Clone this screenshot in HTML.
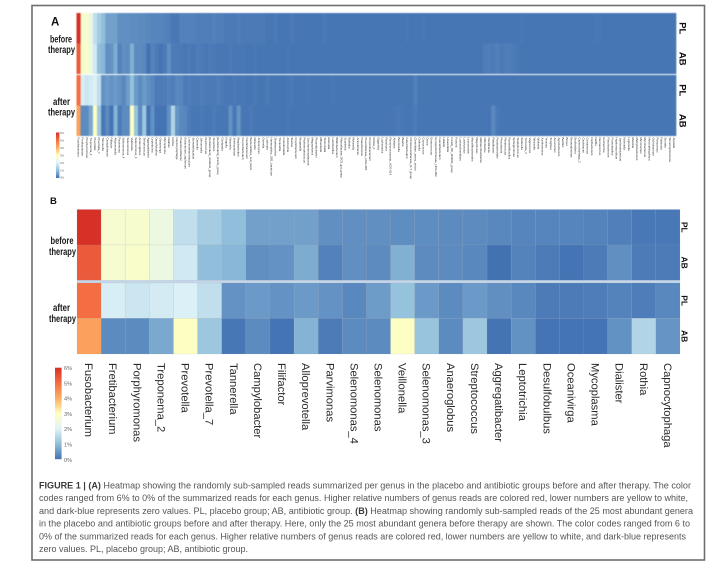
<!DOCTYPE html>
<html lang="en">
<head>
<meta charset="utf-8">
<title>Figure 1 heatmaps</title>
<style>
html,body{margin:0;padding:0;background:#fff;width:724px;height:570px;overflow:hidden}
svg{display:block;font-family:"Liberation Sans",sans-serif;filter:blur(.3px)}
.side{font-weight:bold;font-size:10px;fill:#1a1a1a}
.cap{font-size:9px;fill:#555}
.cap .b{font-weight:bold;fill:#3a3a3a}
</style>
</head>
<body>
<svg id="fig" width="724" height="570" viewBox="0 0 724 570">
  <defs>
    <linearGradient id="lg" x1="0" y1="1" x2="0" y2="0">
      <stop offset="0" stop-color="#4372b3"/><stop offset=".1667" stop-color="#91bfdb"/>
      <stop offset=".3333" stop-color="#e0f3f8"/><stop offset=".5" stop-color="#ffffbf"/>
      <stop offset=".6667" stop-color="#fdae61"/><stop offset=".8333" stop-color="#f46d43"/>
      <stop offset="1" stop-color="#d73027"/>
    </linearGradient>
  </defs>
  <rect x="32" y="5.5" width="672.5" height="554.5" fill="#fff" stroke="#6e6e6e" stroke-width="1.6"/>

  <text x="51" y="25.5" font-size="11.5" font-weight="bold" fill="#111">A</text>
  <g>
    <text class="side" x="50" y="42.5" textLength="22" lengthAdjust="spacingAndGlyphs">before</text>
    <text class="side" x="48" y="53" textLength="27" lengthAdjust="spacingAndGlyphs">therapy</text>
    <text class="side" x="53" y="105" textLength="17" lengthAdjust="spacingAndGlyphs">after</text>
    <text class="side" x="48" y="115.5" textLength="27" lengthAdjust="spacingAndGlyphs">therapy</text>
  </g>
  <g id="heatA" style="filter:blur(.6px)"></g>
  <g id="labelsA"></g>
  <g id="groupsA"></g>
  <rect x="56" y="132.5" width="3.4" height="45.5" fill="url(#lg)"/>
  <g id="legendA"></g>

  <text x="50" y="204" font-size="9.5" font-weight="bold" fill="#111">B</text>
  <g>
    <text class="side" x="50.5" y="244" textLength="23" lengthAdjust="spacingAndGlyphs">before</text>
    <text class="side" x="49" y="255" textLength="27" lengthAdjust="spacingAndGlyphs">therapy</text>
    <text class="side" x="53" y="311" textLength="17" lengthAdjust="spacingAndGlyphs">after</text>
    <text class="side" x="49" y="322" textLength="27" lengthAdjust="spacingAndGlyphs">therapy</text>
  </g>
  <rect x="77" y="280" width="603" height="3.4" fill="#c6d6e9"/>
  <g id="heatB"></g>
  <g id="labelsB"></g>
  <g id="groupsB"></g>
  <rect x="55" y="367.7" width="6.6" height="91.5" fill="url(#lg)"/>
  <g id="legendB"></g>

  <g>
    <text class="cap" x="39" y="488.5" textLength="652" lengthAdjust="spacingAndGlyphs"><tspan class="b">FIGURE 1 | (A)</tspan> Heatmap showing the randomly sub-sampled reads summarized per genus in the placebo and antibiotic groups before and after therapy. The color</text>
    <text class="cap" x="39" y="501" textLength="649" lengthAdjust="spacingAndGlyphs">codes ranged from 6% to 0% of the summarized reads for each genus. Higher relative numbers of genus reads are colored red, lower numbers are yellow to white,</text>
    <text class="cap" x="39" y="514" textLength="654" lengthAdjust="spacingAndGlyphs">and dark-blue represents zero values. PL, placebo group; AB, antibiotic group. <tspan class="b">(B)</tspan> Heatmap showing randomly sub-sampled reads of the 25 most abundant genera</text>
    <text class="cap" x="39" y="526.5" textLength="651" lengthAdjust="spacingAndGlyphs">in the placebo and antibiotic groups before and after therapy. Here, only the 25 most abundant genera before therapy are shown. The color codes ranged from 6 to</text>
    <text class="cap" x="39" y="539.5" textLength="647" lengthAdjust="spacingAndGlyphs">0% of the summarized reads for each genus. Higher relative numbers of genus reads are colored red, lower numbers are yellow to white, and dark-blue represents</text>
    <text class="cap" x="39" y="552" textLength="209" lengthAdjust="spacingAndGlyphs">zero values. PL, placebo group; AB, antibiotic group.</text>
  </g>
</svg>
<script>
const genera = ["Fusobacterium","Fretibacterium","Porphyromonas","Treponema_2","Prevotella","Prevotella_7","Tannerella","Campylobacter","Filifactor","Alloprevotella","Parvimonas","Selenomonas_4","Selenomonas","Veillonella","Selenomonas_3","Anaeroglobus","Streptococcus","Aggregatibacter","Leptotrichia","Desulfobulbus","Oceanivirga","Mycoplasma","Dialister","Rothia","Capnocytophaga"];
const groups = ["PL","AB","PL","AB"];
const legendTicks = ["6%","5%","4%","3%","2%","1%","0%"];
const plBefore = [6,2.7,2.75,2.4,1.6,1.25,1.0,.6,.6,.6,.38,.38,.38,.35,.35,.33,.33,.28,.24,.24,.24,.22,.17,.08,.08];
const abBefore = [5.3,2.7,2.8,2.4,1.8,1.0,.9,.38,.42,.75,.2,.38,.33,.8,.33,.33,.28,0,.22,.12,.02,.12,.38,.12,.12];
const plAfter = [5,1.9,1.75,1.85,1.95,1.6,.42,.52,.42,.52,.42,.28,.55,1.05,.52,.32,.52,.38,.28,.12,.12,.14,.22,.14,.28];
const abAfter = [4.2,.32,.32,.7,2.95,1.15,.06,.32,.02,.85,.12,.32,.32,2.95,1.1,.32,1.15,.02,.4,.02,.02,.02,.4,1.4,.45];
const rowsB = [plBefore,abBefore,plAfter,abAfter];

const moreGenera = ["Pseudoramibacter","Eubacterium_saphenum","Lachnoanaerobaculum","Stomatobaculum","Catonella","Johnsonella","Peptococcus","[Eubacterium]_nodatum_group","Atopobium","[Eubacterium]_brachy_group","Centipeda","Kingella","Neisseria","Solobacterium","Mogibacterium","Corynebacterium","Cardiobacterium","Bacteroidetes_oral_taxon","Olsenella","Actinomyces","Gemella","Lautropia","Haemophilus_SR1_bacterium","Shuttleworthia","Tissierellia","Granulicatella","Abiotrophia","Slackia","Cryptobacterium","Bergeyella","Peptostreptococcus","Saccharimonadaceae","Megasphaera","Pyramidobacter","Mitsuokella","Simonsiella","Eikenella","Lactobacillus","Bifidobacterium","Rikenellaceae_RC9_gut_group","Scardovia","Bulleidia","Moraxella","Acinetobacter","Pseudomonas","Prevotellaceae_UCG-001","Propionibacterium","Rothia_2","Eggerthia","Lachnospira","Roseburia","Ruminococcaceae_UCG-014","Alistipes","Barnesiella","Blautia","Catenibacterium","Christensenellaceae_R-7_group","Clostridium_sensu_stricto","Collinsella","Coprococcus","Dorea","Enterococcus","Erysipelotrichaceae_UCG-003","Faecalibacterium","Hallella","Howardella","Family_XIII_AD3011_group","Kocuria","Lachnoclostridium","Lactococcus","Leuconostoc","Macellibacteroides","Megamonas","Methanobrevibacter","Odoribacter","Oscillibacter","Paludibacter","Parabacteroides","Phocaeicola","Rhodococcus","Rummeliibacillus","Sphingomonas","Staphylococcus","Sutterella","Tyzzerella_3","Vagococcus","Weissella","Wolinella","Xanthomonas","Yersinia","Zoogloea","Aerococcus","Agrobacterium","Bacillus","Bosea","Brevundimonas","Burkholderia","Capnocytophaga_2","Caulobacter","Comamonas","Cutibacterium","Delftia","Dermacoccus","Escherichia","Flavobacterium","Fructobacillus","Hyphomicrobium","Janthinobacterium","Klebsiella","Legionella","Massilia","Methylobacterium","Micrococcus","Mycobacterium","Novosphingobium","Ochrobactrum","Paracoccus","Ralstonia","Serratia","Stenotrophomonas","Alysiella"];
const plBeforeTail = [.2,.2,.2,.2,.15,.15,.15,.15,.2,.15,.15,.1,.1,.1,.15,.1,.1,.1,.1,.1,.1,.05,.05,.1,.05,.05,.05,.1,.05,.05,.05,.05,.05,.05,.05,.1,.05,.05,.05,.05,.05,.05,.05,.05,.05,.05,.05,.05,.05,.05,.05,.05,.05,.05,.05,.08,.05,.05,.05,.08,.05,.05,.05,.05,.05,.05,.05,.05,.05,.05,.05,.05,.05,.05,.05,.05,.05,.05,.05,.05,.05,.05,.05,.08,.05,.05,.05,.05,.05,.05,.05,.05,.05,.05,.05,.05,.05,.05,.05,.05,.05,.08,.08,.05,.05,.05,.05,.05,.05,.05,.05,.05,.05,.05,.05,.05,.05,.05,.05,.05,.05];
const abBeforeTail = [.1,.06,.12,.06,.14,.1,.06,.12,.1,.06,.06,.06,.1,.06,.06,.08,.05,.05,.08,.05,.05,.05,.05,.05,.05,.05,.08,.05,.05,.05,.05,.05,.05,.05,.05,.05,.05,.05,.05,.05,.05,.05,.05,.05,.05,.05,.05,.05,.05,.05,.05,.05,.05,.05,.05,.05,.05,.05,.05,.05,.05,.05,.05,.05,.05,.05,.05,.05,.05,.05,.05,.05,.05,.05,.14,.15,.12,.18,.1,.14,.15,.12,.08,.05,.05,.05,.05,.05,.05,.05,.05,.05,.05,.05,.05,.05,.05,.05,.05,.05,.05,.05,.05,.05,.05,.05,.05,.05,.05,.05,.05,.05,.05,.05,.05,.05,.05,.05,.05,.05,.05];
const plAfterTail = [.25,.1,.15,.1,.1,.15,.12,.1,.1,.15,.1,.06,.06,.1,.06,.08,.05,.05,.1,.05,.05,.1,.05,.05,.05,.05,.08,.1,.05,.05,.05,.08,.05,.05,.05,.05,.05,.08,.05,.05,.05,.05,.05,.05,.05,.05,.05,.05,.05,.05,.05,.05,.05,.05,.05,.05,.05,.18,.05,.05,.05,.05,.05,.05,.05,.05,.05,.05,.05,.05,.05,.05,.05,.05,.05,.05,.05,.05,.05,.05,.05,.05,.05,.05,.05,.05,.05,.05,.05,.05,.05,.05,.05,.05,.05,.05,.05,.05,.05,.05,.05,.05,.05,.05,.05,.05,.05,.05,.05,.05,.05,.05,.05,.05,.05,.05,.05,.05,.05,.05,.05];
const abAfterTail = [.3,.25,.12,.06,.06,.1,.06,.06,.12,.06,.06,.06,.4,.06,.45,.06,.05,.1,.05,.05,.05,.05,.05,.05,.05,.05,.08,.05,.05,.05,.05,.05,.05,.05,.05,.05,.05,.05,.05,.05,.05,.05,.05,.05,.05,.05,.05,.05,.05,.05,.05,.05,.08,.1,.08,.05,.05,.12,.05,.05,.05,.05,.05,.05,.05,.05,.05,.05,.05,.05,.05,.05,.05,.05,.05,.05,.3,.1,.05,.05,.05,.05,.05,.05,.05,.05,.05,.05,.05,.05,.05,.05,.05,.05,.05,.05,.05,.05,.05,.05,.05,.05,.05,.05,.05,.05,.05,.05,.05,.05,.05,.05,.05,.05,.05,.05,.05,.05,.05,.05,.05];
const tailsA = [plBeforeTail,abBeforeTail,plAfterTail,abAfterTail];

const NS = "http://www.w3.org/2000/svg";
const stopsColor = [[67,114,179],[145,191,219],[224,243,248],[255,255,191],[253,174,97],[244,109,67],[215,48,39]];
function colorOf(v){
  const t = Math.max(0,Math.min(5.999,v)), i = Math.floor(t), f = t-i;
  const c = stopsColor[i].map((a,k)=>Math.round(a+(stopsColor[i+1][k]-a)*f));
  return "rgb("+c.join(",")+")";
}
function make(parent,tag,attrs,txt){
  const el = document.createElementNS(NS,tag);
  for(const k in attrs) el.setAttribute(k,attrs[k]);
  if(txt!==undefined) el.textContent = txt;
  parent.appendChild(el);
  return el;
}
/* panel geometry */
const yTopsA = [13,43.5,75,105.5], rowHA = 30.5, xA0 = 76.5, xA1 = 676;
const yTopsB = [209.5,245,283,318.3], rowHB = [35.5,35.2,35.3,35.7], xB0 = 77, xB1 = 680;

/* panel A */
const rowsA = rowsB.map((r,i)=>r.concat(tailsA[i]));
const generaA = genera.concat(moreGenera);
const colA = (xA1-xA0)/rowsA[0].length;
const heatA = document.getElementById("heatA");
make(heatA,"rect",{x:xA0,y:13,width:xA1-xA0,height:123,fill:"#4372b3"});
make(heatA,"rect",{x:xA0,y:74,width:xA1-xA0,height:1,fill:"#ffffff"});
rowsA.forEach((row,r)=>row.forEach((v,c)=>{
  const cell = make(heatA,"rect",{x:xA0+c*colA,y:yTopsA[r],width:colA+.3,height:rowHA,fill:colorOf(v)});
  
  
}));
const labelsA = document.getElementById("labelsA");
generaA.forEach((g,c)=>{
  const x = xA0+(c+.5)*colA-1;
  const t = make(labelsA,"text",{transform:"translate("+x.toFixed(2)+",137.5) rotate(90)","font-size":"2.9",fill:"#222"},g);
  
  
});
const groupsA = document.getElementById("groupsA");
groups.forEach((g,r)=>{
  const t = make(groupsA,"text",{transform:"translate(679.5,"+(yTopsA[r]+rowHA/2)+") rotate(90)","font-size":"9.5","font-weight":"bold","text-anchor":"middle",fill:"#111"},g);
  
  
});
const legendA = document.getElementById("legendA");
legendTicks.forEach((s,i)=>{
  const t = make(legendA,"text",{x:60,y:134+i*7.45,"font-size":"2.8",fill:"#666"},s);
  
  
});

/* panel B */
const colB = (xB1-xB0)/genera.length;
const heatB = document.getElementById("heatB");
rowsB.forEach((row,r)=>row.forEach((v,c)=>{
  const cell = make(heatB,"rect",{x:xB0+c*colB,y:yTopsB[r],width:colB,height:rowHB[r],fill:colorOf(v),stroke:"rgba(150,160,170,.22)","stroke-width":".6"});
  
  
}));
const labelsB = document.getElementById("labelsB");
genera.forEach((g,c)=>{
  const x = xB0+(c+.5)*colB-4;
  const t = make(labelsB,"text",{transform:"translate("+x.toFixed(2)+",363) rotate(90)","font-size":"11.2",fill:"#2a2a2a"},g);
  
  
});
const groupsB = document.getElementById("groupsB");
groups.forEach((g,r)=>{
  const t = make(groupsB,"text",{transform:"translate(681.5,"+(yTopsB[r]+rowHB[r]/2)+") rotate(90)","font-size":"8.5","font-weight":"bold","text-anchor":"middle",fill:"#111"},g);
  
  
});
const legendB = document.getElementById("legendB");
legendTicks.forEach((s,i)=>{
  const t = make(legendB,"text",{x:64,y:370+i*15.3,"font-size":"5.6",fill:"#666"},s);
  
  
});
</script>
</body>
</html>
